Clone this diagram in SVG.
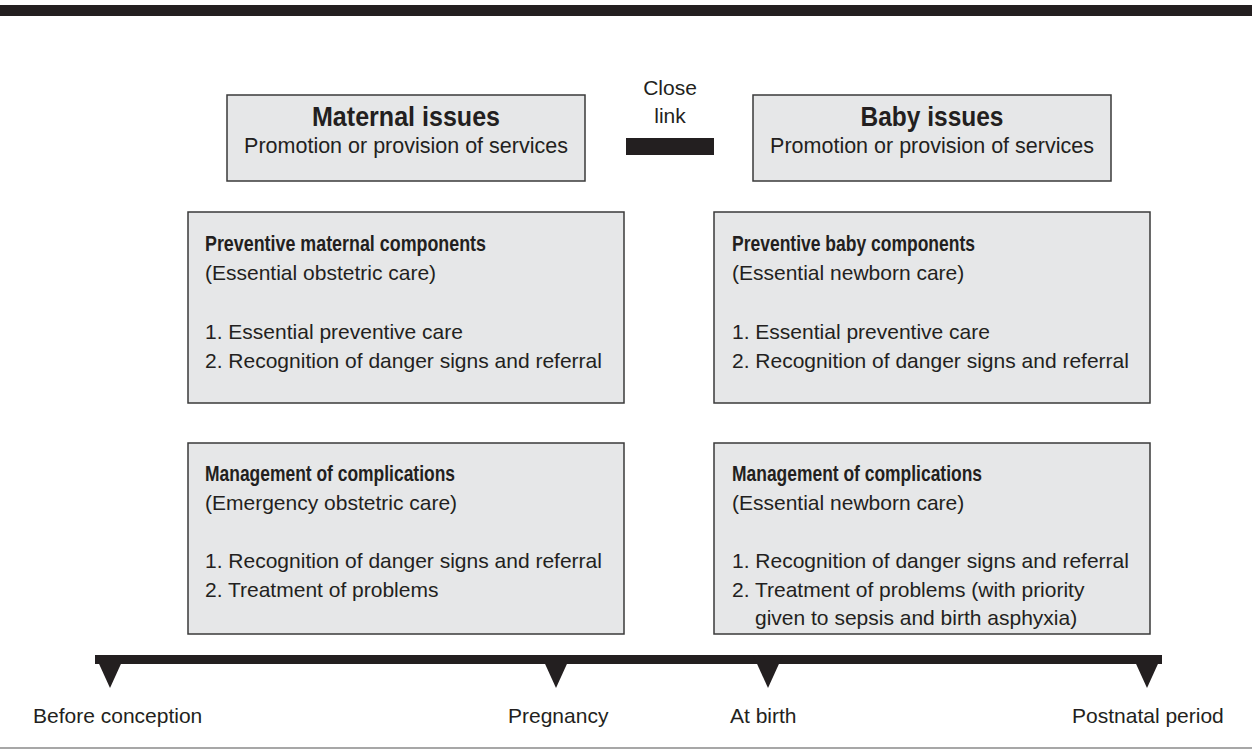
<svg xmlns="http://www.w3.org/2000/svg" width="1252" height="749" viewBox="0 0 1252 749">
<style>
.box{fill:#e6e7e8;stroke:#3a3a3a;stroke-width:1.5}
text{font-family:"Liberation Sans",Arial,sans-serif;fill:#231f20;font-size:21px}
.b{font-weight:bold;font-size:22.5px}
.t{font-size:27px;font-weight:bold}
.s{font-size:21.5px}
.m{text-anchor:middle}
</style>
<defs>
<polygon id="tri" points="-15,0 15,0 0,33" fill="#231f20"/>
</defs>
<rect x="0" y="5" width="1252" height="11" fill="#231f20"/>
<line x1="0" y1="748" x2="1252" y2="748" stroke="#8a8a8a" stroke-width="1.5"/>

<g id="maternal">
<rect class="box" x="227" y="95" width="358" height="86"/>
<text class="t m" x="406" y="126" textLength="188" lengthAdjust="spacingAndGlyphs">Maternal issues</text>
<text class="s m" x="406" y="153">Promotion or provision of services</text>
</g>
<g id="baby">
<rect class="box" x="753" y="95" width="358" height="86"/>
<text class="t m" x="932" y="126" textLength="143" lengthAdjust="spacingAndGlyphs">Baby issues</text>
<text class="s m" x="932" y="153">Promotion or provision of services</text>
</g>
<g id="closelink">
<text class="m" x="670" y="95">Close</text>
<text class="m" x="670" y="123">link</text>
<rect x="626" y="138" width="88" height="17" fill="#231f20"/>
</g>

<g id="prev-maternal">
<rect class="box" x="188" y="212" width="436" height="191"/>
<text class="b" x="205" y="251" textLength="281" lengthAdjust="spacingAndGlyphs">Preventive maternal components</text>
<text x="205" y="280">(Essential obstetric care)</text>
<text x="205" y="339">1. Essential preventive care</text>
<text x="205" y="368">2. Recognition of danger signs and referral</text>
</g>
<g id="prev-baby">
<rect class="box" x="714" y="212" width="436" height="191"/>
<text class="b" x="732" y="251" textLength="243" lengthAdjust="spacingAndGlyphs">Preventive baby components</text>
<text x="732" y="280">(Essential newborn care)</text>
<text x="732" y="339">1. Essential preventive care</text>
<text x="732" y="368">2. Recognition of danger signs and referral</text>
</g>
<g id="mgmt-maternal">
<rect class="box" x="188" y="443" width="436" height="191"/>
<text class="b" x="205" y="481" textLength="250" lengthAdjust="spacingAndGlyphs">Management of complications</text>
<text x="205" y="510">(Emergency obstetric care)</text>
<text x="205" y="568">1. Recognition of danger signs and referral</text>
<text x="205" y="597">2. Treatment of problems</text>
</g>
<g id="mgmt-baby">
<rect class="box" x="714" y="443" width="436" height="191"/>
<text class="b" x="732" y="481" textLength="250" lengthAdjust="spacingAndGlyphs">Management of complications</text>
<text x="732" y="510">(Essential newborn care)</text>
<text x="732" y="568">1. Recognition of danger signs and referral</text>
<text x="732" y="597">2. Treatment of problems (with priority</text>
<text x="755" y="625">given to sepsis and birth asphyxia)</text>
</g>

<g id="connectors">
<rect x="95" y="655" width="1067" height="9" fill="#231f20"/>
<use href="#tri" x="110" y="655"/>
<use href="#tri" x="556" y="655"/>
<use href="#tri" x="768" y="655"/>
<use href="#tri" x="1147" y="655"/>
</g>
<g id="timeline-labels">
<text x="33" y="723">Before conception</text>
<text x="508" y="723">Pregnancy</text>
<text x="730" y="723">At birth</text>
<text x="1072" y="723">Postnatal period</text>
</g>
</svg>
